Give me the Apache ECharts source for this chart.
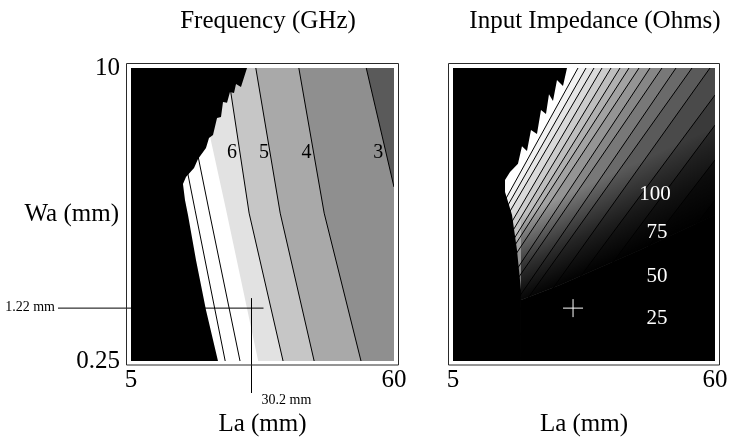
<!DOCTYPE html>
<html>
<head>
<meta charset="utf-8">
<script src="https://cdn.jsdelivr.net/npm/echarts@6.0.0/dist/echarts.min.js"></script>
<style>
  html, body { margin: 0; padding: 0; background: #fff; }
  #chart { width: 730px; height: 442px; }
</style>
</head>
<body>
<div id="chart"></div>
<script>
// axis ranges and tick labels
const laRange = [5, 60];
const waRange = [0.25, 10];
const laTicks = [5, 60];
const waTicks = [0.25, 10];

// Frequency panel: contour lines traced top -> bottom, [La, Wa] in mm
const freqLine8 = [[12.5, 10], [18.4, 5.27], [24.7, 0.25]];
const freqLine7 = [[15.3, 10], [21.3, 5.27], [27.8, 0.25]];
const freqShadeEdge = [[18.4, 10], [24.9, 5.27], [31.6, 0.25]];
const freqLine6 = [[25.1, 10], [29.7, 5.17], [36.8, 0.25]];
const freqLine5 = [[31.1, 10], [36.2, 5.17], [43.3, 0.25]];
const freqLine4 = [[40.1, 10], [45.4, 5.17], [53.1, 0.25]];
const freqLine3 = [[54.2, 10], [60, 6.04]];
const freqLabels = ['6', '5', '4', '3'];
const freqLabelAt = [[26.1, 7.17], [32.8, 7.17], [41.7, 7.17], [56.7, 7.17]];
// region with no solution (black)
const freqVoid = [[5, 10], [29.26, 10], [28.0, 9.37], [26.96, 9.47], [26.54, 9.17], [25.7, 9.2],
  [25.08, 8.84], [24.24, 8.87], [23.82, 8.37], [22.99, 8.34], [22.15, 7.77], [21.31, 7.67],
  [20.68, 7.34], [19.01, 6.97], [18.18, 6.67], [16.5, 6.37], [15.87, 6.14], [16.29, 5.61],
  [16.92, 5.11], [18.59, 3.61], [20.68, 1.95], [23.19, 0.25], [5, 0.25]];

// Impedance panel: contour lines traced from upper end down to lower-left end
const impLines = [
  [[31.24, 10], [11.09, 4.21], [5, 2.48]],
  [[32.92, 10], [12.14, 4.21], [5, 2.23]],
  [[34.6, 10], [13.19, 4.21], [5, 2.01]],
  [[36.28, 10], [14.87, 4.21], [5, 1.55]],
  [[38.17, 10], [16.13, 4.21], [5, 1.3]],
  [[40.06, 10], [17.39, 4.21], [5, 1.08]],
  [[41.95, 10], [18.43, 4.21], [5, 0.92]],
  [[44.05, 10], [19.9, 4.21], [5, 0.67]],
  [[46.35, 10], [22.21, 4.21], [5.63, 0.25]],
  [[48.87, 10], [23.89, 4.21], [6.68, 0.25]],
  [[51.81, 10], [26.83, 4.21], [9.62, 0.25]],
  [[55.17, 10], [29.14, 4.21], [11.3, 0.25]],
  [[58.95, 10], [32.92, 4.21], [15.08, 0.25]],
  [[60, 9.1], [37.12, 4.21], [18.64, 0.25]],
  [[60, 8.1], [41.74, 4.21], [23.26, 0.25]],
  [[60, 6.94], [46.77, 4.21], [27.57, 0.25]],
  [[60, 5.61], [53.28, 4.21], [34.07, 0.25]]
];
const impLabels = ['100', '75', '50', '25'];
const impLabelAt = [[47.4, 5.79], [47.8, 4.54], [47.8, 3.05], [47.8, 1.68]];
const impVoid = [[5, 10], [28.93, 10], [28.09, 9.4], [26.83, 9.6], [25.99, 8.9], [25.15, 9.13],
  [24.52, 8.47], [23.47, 8.6], [22.63, 7.8], [21.37, 7.94], [20.53, 7.24], [19.48, 7.4],
  [18.64, 6.81], [16.97, 6.54], [15.92, 6.27], [15.92, 5.87], [17.39, 5.11], [18.43, 3.94],
  [19.27, 2.61], [19.27, 0.25], [5, 0.25]];
// the dark lower-right area where the contours fade out
const impFade = [[19.27, 5.2], [35.86, 6.3], [60, 8.4], [60, 5.11], [44.26, 3.94], [27.46, 2.78], [19.27, 2.28]];
const impFadeAxis = [[33.0, 6.1], [40.2, 3.6]];
const impVoidLower = [[19.27, 2.28], [27.46, 2.78], [44.26, 3.94], [60, 5.11], [60, 0.25], [19.27, 0.25]];

// chosen design point
const designPoint = [30.2, 2.01];
const designLabels = ['1.22 mm', '30.2 mm'];

// ---- styles ----
const SERIF = '"Liberation Serif", "DejaVu Serif", serif';
const BIG = 25;
const freqLines = [freqLine8, freqLine7, freqShadeEdge, freqLine6, freqLine5, freqLine4, freqLine3];
const freqStroked = [true, true, false, true, true, true, true];
const freqColors = ['#ffffff', '#ffffff', '#e2e2e2', '#c6c6c6', '#a9a9a9', '#8f8f8f', '#5a5a5a'];
const impColors = ['#f2f2f2', '#e6e6e6', '#dadada', '#cccccc', '#bebebe', '#b0b0b0', '#a2a2a2', '#949494',
  '#868686', '#787878', '#6a6a6a', '#5a5a5a', '#4a4a4a', '#3a3a3a', '#2a2a2a', '#1a1a1a', '#0c0c0c'];

const grids = [
  { left: 131, top: 68, width: 263, height: 293, outerBoundsMode: 'none' },
  { left: 453, top: 68, width: 262, height: 293, outerBoundsMode: 'none' }
];

const chart = echarts.init(document.getElementById('chart'), null, { renderer: 'canvas' });

// region to the right of a top->bottom frequency line
const freqPolys = freqLines.map(line => {
  const last = line[line.length - 1];
  const corners = last[0] >= laRange[1]
    ? [[laRange[1], waRange[1]]]
    : [[laRange[1], waRange[0]], [laRange[1], waRange[1]]];
  return line.concat(corners);
});

// region below/right of an impedance line
const impPolys = impLines.map(line => {
  const first = line[0];
  const last = line[line.length - 1];
  const pts = line.slice();
  if (last[0] <= laRange[0]) pts.push([laRange[0], waRange[0]]);
  pts.push([laRange[1], waRange[0]]);
  if (first[1] >= waRange[1]) pts.push([laRange[1], waRange[1]]);
  return pts;
});

function polySeries(gi, polys, fills, z) {
  return {
    type: 'custom', xAxisIndex: gi, yAxisIndex: gi, z: z, silent: true, clip: true,
    data: polys.map((p, i) => [p[0][0], p[0][1], i]),
    renderItem(params, api) {
      const i = api.value(2);
      return {
        type: 'polygon',
        shape: { points: polys[i].map(pt => api.coord(pt)) },
        style: { fill: fills[i] }
      };
    }
  };
}

function lineSeries(gi, lines, z) {
  return {
    type: 'custom', xAxisIndex: gi, yAxisIndex: gi, z: z, silent: true, clip: true,
    data: lines.map((l, i) => [l[0][0], l[0][1], i]),
    renderItem(params, api) {
      const i = api.value(2);
      return {
        type: 'polyline',
        shape: { points: lines[i].map(pt => api.coord(pt)) },
        style: { stroke: '#000', lineWidth: 1, fill: null }
      };
    }
  };
}

function labelSeries(gi, texts, at, color, size, z) {
  return {
    type: 'custom', xAxisIndex: gi, yAxisIndex: gi, z: z, silent: true,
    data: at.map((p, i) => [p[0], p[1], i]),
    renderItem(params, api) {
      const p = api.coord([api.value(0), api.value(1)]);
      return {
        type: 'text', x: p[0], y: p[1],
        style: {
          text: texts[api.value(2)], fill: color, fontFamily: SERIF, fontSize: size,
          align: 'center', verticalAlign: 'middle'
        }
      };
    }
  };
}

function xAxisFor(gi) {
  return {
    type: 'value', gridIndex: gi, min: laRange[0], max: laRange[1],
    name: 'La (mm)', nameLocation: 'middle', nameGap: 51,
    nameTextStyle: { fontFamily: SERIF, fontSize: BIG, color: '#000' },
    axisLine: { show: false }, axisTick: { show: false }, splitLine: { show: false },
    axisLabel: { customValues: laTicks, fontFamily: SERIF, fontSize: BIG, color: '#000', margin: 7 }
  };
}

function yAxisFor(gi) {
  return {
    type: 'value', gridIndex: gi, min: waRange[0], max: waRange[1],
    name: gi === 0 ? 'Wa (mm)' : '', nameLocation: 'middle', nameRotate: 0, nameGap: 12,
    nameMoveOverlap: false,
    nameTextStyle: { fontFamily: SERIF, fontSize: BIG, color: '#000' },
    axisLine: { show: false }, axisTick: { show: false }, splitLine: { show: false },
    axisLabel: {
      show: gi === 0, customValues: waTicks, fontFamily: SERIF, fontSize: BIG, color: '#000', margin: 11
    }
  };
}

const frames = grids.map(g => ({
  type: 'rect', z: 100, silent: true,
  shape: { x: g.left - 4.5, y: g.top - 4.5, width: g.width + 9, height: g.height + 8.5 },
  style: { fill: null, stroke: '#2a2a2a', lineWidth: 1 }
}));

chart.setOption({
  animation: false,
  backgroundColor: '#fff',
  title: [
    { text: 'Frequency (GHz)', left: 263, top: 4, textAlign: 'center',
      textStyle: { fontFamily: SERIF, fontSize: BIG, fontWeight: 'normal', color: '#000' } },
    { text: 'Input Impedance (Ohms)', left: 590, top: 4, textAlign: 'center',
      textStyle: { fontFamily: SERIF, fontSize: BIG, fontWeight: 'normal', color: '#000' } }
  ],
  grid: grids,
  xAxis: [xAxisFor(0), xAxisFor(1)],
  yAxis: [yAxisFor(0), yAxisFor(1)],
  graphic: frames,
  series: [
    // frequency panel
    polySeries(0, freqPolys, freqColors, 1),
    lineSeries(0, freqLines.filter((l, i) => freqStroked[i]), 2),
    polySeries(0, [freqVoid], ['#000'], 3),
    labelSeries(0, freqLabels, freqLabelAt, '#000', 20, 4),
    {
      // design point cross-hair with its callouts
      type: 'custom', xAxisIndex: 0, yAxisIndex: 0, z: 5, silent: true, clip: false,
      data: [designPoint],
      renderItem(params, api) {
        const p = api.coord(designPoint);
        const g = grids[0];
        const bottom = g.top + g.height;
        return {
          type: 'group',
          children: [
            { type: 'line', shape: { x1: g.left - 73, y1: p[1], x2: p[0] + 12, y2: p[1] },
              style: { stroke: '#000', lineWidth: 1 } },
            { type: 'line', shape: { x1: p[0], y1: p[1] - 10, x2: p[0], y2: bottom + 32 },
              style: { stroke: '#000', lineWidth: 1 } },
            { type: 'text', x: g.left - 76, y: p[1] - 1,
              style: { text: designLabels[0], fill: '#000', fontFamily: SERIF, fontSize: 14,
                align: 'right', verticalAlign: 'middle' } },
            { type: 'text', x: p[0] + 10, y: bottom + 39,
              style: { text: designLabels[1], fill: '#000', fontFamily: SERIF, fontSize: 14,
                align: 'left', verticalAlign: 'middle' } }
          ]
        };
      }
    },
    // impedance panel
    polySeries(1, impPolys, impColors, 1),
    lineSeries(1, impLines, 2),
    {
      // soft fade of the contours into the dark lower region
      type: 'custom', xAxisIndex: 1, yAxisIndex: 1, z: 3, silent: true, clip: true,
      data: [impFade[0]],
      renderItem(params, api) {
        const a = api.coord(impFadeAxis[0]);
        const b = api.coord(impFadeAxis[1]);
        const grad = new echarts.graphic.LinearGradient(a[0], a[1], b[0], b[1], [
          { offset: 0, color: 'rgba(0,0,0,0)' },
          { offset: 0.55, color: 'rgba(0,0,0,0.6)' },
          { offset: 1, color: '#000' }
        ], true);
        return {
          type: 'polygon',
          shape: { points: impFade.map(pt => api.coord(pt)) },
          style: { fill: grad }
        };
      }
    },
    polySeries(1, [impVoidLower, impVoid], ['#000', '#000'], 3),
    labelSeries(1, impLabels, impLabelAt, '#fff', 21, 4),
    {
      type: 'custom', xAxisIndex: 1, yAxisIndex: 1, z: 5, silent: true, clip: false,
      data: [designPoint],
      renderItem(params, api) {
        const p = api.coord(designPoint);
        return {
          type: 'group',
          children: [
            { type: 'line', shape: { x1: p[0] - 10, y1: p[1], x2: p[0] + 10, y2: p[1] },
              style: { stroke: '#fff', lineWidth: 1 } },
            { type: 'line', shape: { x1: p[0], y1: p[1] - 9, x2: p[0], y2: p[1] + 9 },
              style: { stroke: '#fff', lineWidth: 1 } }
          ]
        };
      }
    }
  ]
});
</script>
</body>
</html>
